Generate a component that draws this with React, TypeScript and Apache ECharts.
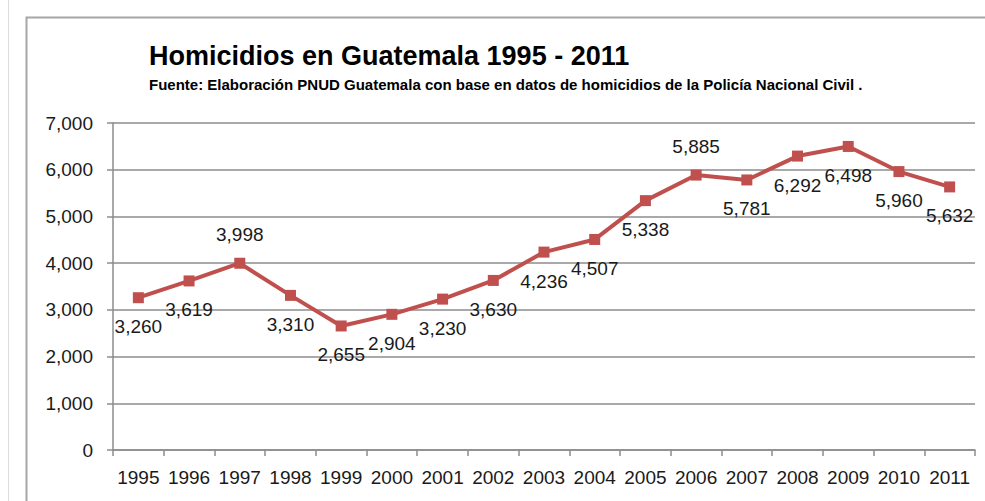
import React, { useEffect, useRef } from "react";
import * as echarts from "echarts";

const years = ["1995","1996","1997","1998","1999","2000","2001","2002","2003","2004","2005","2006","2007","2008","2009","2010","2011"];
const homicides = [3260,3619,3998,3310,2655,2904,3230,3630,4236,4507,5338,5885,5781,6292,6498,5960,5632];
const labelsAbove = ["1997","2006"];
const titleText = "Homicidios en Guatemala 1995 - 2011";
const subtitleText = "Fuente: Elaboración PNUD Guatemala con base en datos de homicidios de la Policía Nacional Civil .";

const fmt = (v: number) => v.toLocaleString("en-US");
const FONT = "Liberation Sans, Arial, sans-serif";

export default function App() {
  const ref = useRef<HTMLDivElement>(null);
  useEffect(() => {
    document.body.style.margin = "0";
    const chart = echarts.init(ref.current!, null, { renderer: "svg" });
    chart.setOption({
      animation: false,
      backgroundColor: "#ffffff",
      textStyle: { fontFamily: FONT },
      title: {
        text: titleText,
        subtext: subtitleText,
        left: 144,
        top: 37,
        itemGap: 8,
        textStyle: { fontFamily: FONT, fontSize: 27, fontWeight: "bold", color: "#000" },
        subtextStyle: { fontFamily: FONT, fontSize: 15, fontWeight: "bold", color: "#000" },
      },
      graphic: [
        { type: "line", shape: { x1: 8.5, y1: 0, x2: 8.5, y2: 501 }, style: { stroke: "#dcdcdc", lineWidth: 1 } },
        { type: "polyline", shape: { points: [[26.5, 501], [26.5, 17.5], [985, 17.5]] }, style: { stroke: "#a6a6a6", lineWidth: 2, fill: "none" } },
      ],
      grid: { left: 113, right: 10, top: 123, bottom: 51, containLabel: false },
      xAxis: {
        type: "category",
        data: years,
        boundaryGap: true,
        axisLine: { show: true, lineStyle: { color: "#8c8c8c", width: 1.5 } },
        axisTick: { show: true, length: 6, lineStyle: { color: "#8c8c8c", width: 1.5 } },
        axisLabel: { color: "#1a1a1a", fontSize: 19, margin: 18, interval: 0, fontFamily: FONT },
      },
      yAxis: {
        type: "value",
        min: 0,
        max: 7000,
        interval: 1000,
        axisLine: { show: true, lineStyle: { color: "#8c8c8c", width: 1.5 } },
        axisTick: { show: true, length: 6, lineStyle: { color: "#8c8c8c", width: 1.5 } },
        splitLine: { show: true, lineStyle: { color: "#8c8c8c", width: 1.5 } },
        axisLabel: { color: "#1a1a1a", fontSize: 19, margin: 20, formatter: (v: number) => fmt(v), fontFamily: FONT },
      },
      series: [
        {
          type: "line",
          data: homicides.map((v, i) => ({
            value: v,
            label: { position: labelsAbove.includes(years[i]) ? "top" : "bottom" },
          })),
          symbol: "rect",
          symbolSize: 11,
          itemStyle: { color: "#C0504D" },
          lineStyle: { color: "#C0504D", width: 4 },
          label: {
            show: true,
            position: "bottom",
            distance: 14,
            fontSize: 19,
            color: "#1a1a1a",
            fontFamily: FONT,
            formatter: (p: any) => fmt(p.value),
          },
        },
      ],
    });
    return () => chart.dispose();
  }, []);
  return <div ref={ref} style={{ width: 985, height: 501 }} />;
}
